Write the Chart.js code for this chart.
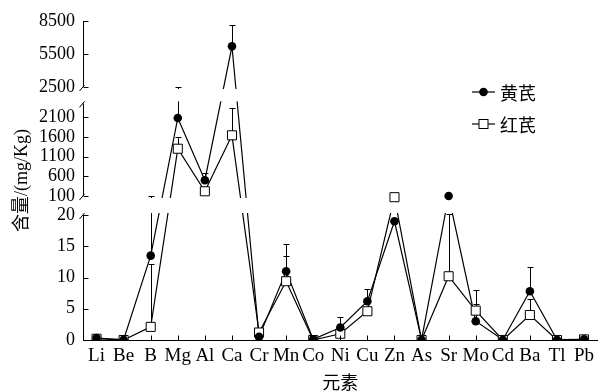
<!DOCTYPE html>
<html>
<head>
<meta charset="utf-8">
<script src="https://cdn.jsdelivr.net/npm/chart.js@4/dist/chart.umd.min.js"></script>
<style>
  html, body { margin: 0; padding: 0; background: #fff; }
  #wrap { width: 605px; height: 391px; }
</style>
</head>
<body>
<div id="wrap"><canvas id="elementChart"></canvas></div>
<script>
// elements on the x axis
var elements = ['Li', 'Be', 'B', 'Mg', 'Al', 'Ca', 'Cr', 'Mn', 'Co', 'Ni', 'Cu', 'Zn', 'As', 'Sr', 'Mo', 'Cd', 'Ba', 'Tl', 'Pb'];

// 黄芪 mean and upper error (mg/Kg)
var huangqi    = [0.3, 0.05, 13.5, 2080, 500, 6200, 0.5, 11.0, 0.1, 2.0, 6.2, 19.0, 0.05, 100, 3.0, 0.05, 7.8, 0.05, 0.1];
var huangqiErr = [0, 0, 86.5, 440, 180, 1900, 0, 4.4, 0, 1.7, 1.9, 0, 0, 0, 5.0, 0, 3.9, 0, 0];

// 红芪 mean and upper error (mg/Kg)
var hongqi    = [0.2, 0, 2.1, 1300, 220, 1640, 1.2, 9.4, 0, 1.0, 4.6, 95, 0, 10.2, 4.7, 0, 4.0, 0, 0.1];
var hongqiErr = [0, 0, 10, 300, 0, 690, 0, 4.0, 0, 0, 0, 0, 0, 12, 1.1, 0, 2.6, 0, 0];

// y tick labels of the broken axis
var yTicks = [0, 5, 10, 15, 20, 100, 600, 1100, 1600, 2100, 2500, 5500, 8500];

// broken axis: value ranges and where they sit on the axis
var yPieces = [
  { from: 0, to: 20, start: 0, end: 125 },
  { from: 100, to: 2450, start: 144, end: 236.6 },
  { from: 2500, to: 8500, start: 253, end: 319 }
];

function toAxis(v) {
  for (var i = 0; i < yPieces.length; i++) {
    var p = yPieces[i];
    if (v <= p.to) {
      if (v >= p.from || i === 0) {
        return p.start + (v - p.from) / (p.to - p.from) * (p.end - p.start);
      }
      var q = yPieces[i - 1];
      return q.end + (v - q.to) / (p.from - q.to) * (p.start - q.end);
    }
  }
  var last = yPieces[yPieces.length - 1];
  return last.end;
}

var serif = '"Liberation Serif", "Noto Sans CJK SC", serif';
var cjk = '"Noto Sans CJK SC", sans-serif';

function drawErrorBars(chart) {
  var ctx = chart.ctx, xs = chart.scales.x, ys = chart.scales.y;
  var series = [[huangqi, huangqiErr], [hongqi, hongqiErr]];
  ctx.save();
  ctx.strokeStyle = '#000';
  ctx.lineWidth = 1;
  series.forEach(function (s) {
    s[0].forEach(function (v, i) {
      var e = s[1][i];
      if (!e) return;
      var x = Math.round(xs.getPixelForValue(i)) + 0.5;
      var y0 = ys.getPixelForValue(toAxis(v));
      var y1 = Math.round(ys.getPixelForValue(toAxis(v + e))) + 0.5;
      ctx.beginPath();
      ctx.moveTo(x, y0);
      ctx.lineTo(x, y1);
      ctx.moveTo(x - 3, y1);
      ctx.lineTo(x + 3, y1);
      ctx.stroke();
    });
  });
  ctx.restore();
}

function drawBands(chart) {
  var ctx = chart.ctx, ys = chart.scales.y, a = chart.chartArea;
  ctx.save();
  ctx.fillStyle = '#fff';
  for (var i = 1; i < yPieces.length; i++) {
    var top = ys.getPixelForValue(yPieces[i].start) + 2;
    var bottom = ys.getPixelForValue(yPieces[i - 1].end) - 2;
    ctx.fillRect(a.left + 1, top, a.right - a.left, bottom - top);
  }
  ctx.restore();
}

function drawAxis(chart) {
  var ctx = chart.ctx, ys = chart.scales.y, xs = chart.scales.x, a = chart.chartArea;
  var ax = Math.round(a.left) + 0.5;
  ctx.save();
  ctx.strokeStyle = '#000';
  ctx.lineWidth = 1;
  ctx.beginPath();
  yPieces.forEach(function (p, i) {
    var yb = ys.getPixelForValue(p.start);
    var yt = ys.getPixelForValue(p.end);
    ctx.moveTo(ax, yb);
    ctx.lineTo(ax, yt);
    if (i > 0) {
      ctx.moveTo(ax - 4, yb + 4);
      ctx.lineTo(ax + 1, yb - 2);
    }
    if (i < yPieces.length - 1) {
      ctx.moveTo(ax - 4, yt + 4);
      ctx.lineTo(ax + 1, yt - 2);
    }
  });
  yTicks.forEach(function (v) {
    var y = Math.round(ys.getPixelForValue(toAxis(v))) + 0.5;
    ctx.moveTo(ax, y);
    ctx.lineTo(ax + 5, y);
  });
  var yb = Math.round(a.bottom) + 0.5;
  elements.forEach(function (el, i) {
    var x = Math.round(xs.getPixelForValue(i)) + 0.5;
    ctx.moveTo(x, yb);
    ctx.lineTo(x, yb - 5);
  });
  ctx.stroke();
  ctx.restore();
}

function drawLegend(chart) {
  var ctx = chart.ctx;
  var items = [
    { label: '黄芪', y: 92, marker: 'circle' },
    { label: '红芪', y: 124, marker: 'rect' }
  ];
  ctx.save();
  ctx.strokeStyle = '#000';
  ctx.lineWidth = 1.2;
  items.forEach(function (it) {
    ctx.beginPath();
    ctx.moveTo(472, it.y);
    ctx.lineTo(495, it.y);
    ctx.stroke();
    ctx.lineWidth = 1;
    if (it.marker === 'circle') {
      ctx.fillStyle = '#000';
      ctx.beginPath();
      ctx.arc(483.5, it.y, 4.3, 0, Math.PI * 2);
      ctx.fill();
    } else {
      ctx.fillStyle = '#fff';
      ctx.fillRect(479, it.y - 4.5, 9, 9);
      ctx.strokeRect(479, it.y - 4.5, 9, 9);
    }
    ctx.fillStyle = '#000';
    ctx.font = '18px ' + cjk;
    ctx.textBaseline = 'middle';
    ctx.fillText(it.label, 500, it.y + 1);
    ctx.lineWidth = 1.2;
  });
  ctx.restore();
}

var brokenAxis = {
  id: 'brokenAxis',
  beforeDatasetsDraw: function (chart) { chart.$bandsDone = false; },
  beforeDatasetDraw: function (chart, args) {
    var ds = chart.data.datasets[args.index];
    if (chart.$bandsDone || ds.showLine !== false) return;
    chart.$bandsDone = true;
    drawErrorBars(chart);
    drawBands(chart);
  },
  afterDraw: function (chart) {
    drawAxis(chart);
    drawLegend(chart);
  }
};

var ctx = document.getElementById('elementChart');
var elementChart = new Chart(ctx, {
  type: 'line',
  data: {
    labels: elements,
    datasets: [
      { label: '黄芪', data: huangqi.map(toAxis), borderColor: '#000', borderWidth: 1.2, pointRadius: 0, order: 3 },
      { label: '红芪', data: hongqi.map(toAxis), borderColor: '#000', borderWidth: 1.2, pointRadius: 0, order: 4 },
      { label: '黄芪', data: huangqi.map(toAxis), showLine: false, pointStyle: 'circle', pointRadius: 4.3,
        pointBackgroundColor: '#000', pointBorderColor: '#000', pointBorderWidth: 0, order: 1 },
      { label: '红芪', data: hongqi.map(toAxis), showLine: false, pointStyle: 'rect', pointRadius: 6.4,
        pointBackgroundColor: '#fff', pointBorderColor: '#000', pointBorderWidth: 1, order: 2 }
    ]
  },
  options: {
    responsive: true,
    maintainAspectRatio: false,
    animation: false,
    layout: { padding: { top: 21, right: 0, left: 0, bottom: 0 } },
    plugins: { legend: { display: false }, tooltip: { enabled: false } },
    scales: {
      x: {
        offset: true,
        grid: { display: false, drawTicks: false },
        border: { display: true, color: '#000', width: 1 },
        ticks: { color: '#000', font: { family: serif, size: 19 }, padding: 5, autoSkip: false, maxRotation: 0 },
        title: { display: true, text: '元素', color: '#000', font: { family: cjk, size: 18, lineHeight: 1 }, padding: 0 },
        afterFit: function (scale) { scale.height = 51; }
      },
      y: {
        min: 0,
        max: 319,
        grid: { display: false, drawTicks: false },
        border: { display: false },
        afterBuildTicks: function (scale) {
          scale.ticks = yTicks.map(function (v) { return { value: toAxis(v) }; });
        },
        ticks: {
          color: '#000', font: { family: serif, size: 18 }, padding: 8, autoSkip: false,
          callback: function (value, index) { return yTicks[index]; }
        },
        title: { display: true, text: '含量/(mg/Kg)', color: '#000', font: { family: serif, size: 18 }, padding: { top: 11, bottom: 0 } },
        afterFit: function (scale) { scale.width = 83; }
      }
    }
  },
  plugins: [brokenAxis]
});
</script>
</body>
</html>
